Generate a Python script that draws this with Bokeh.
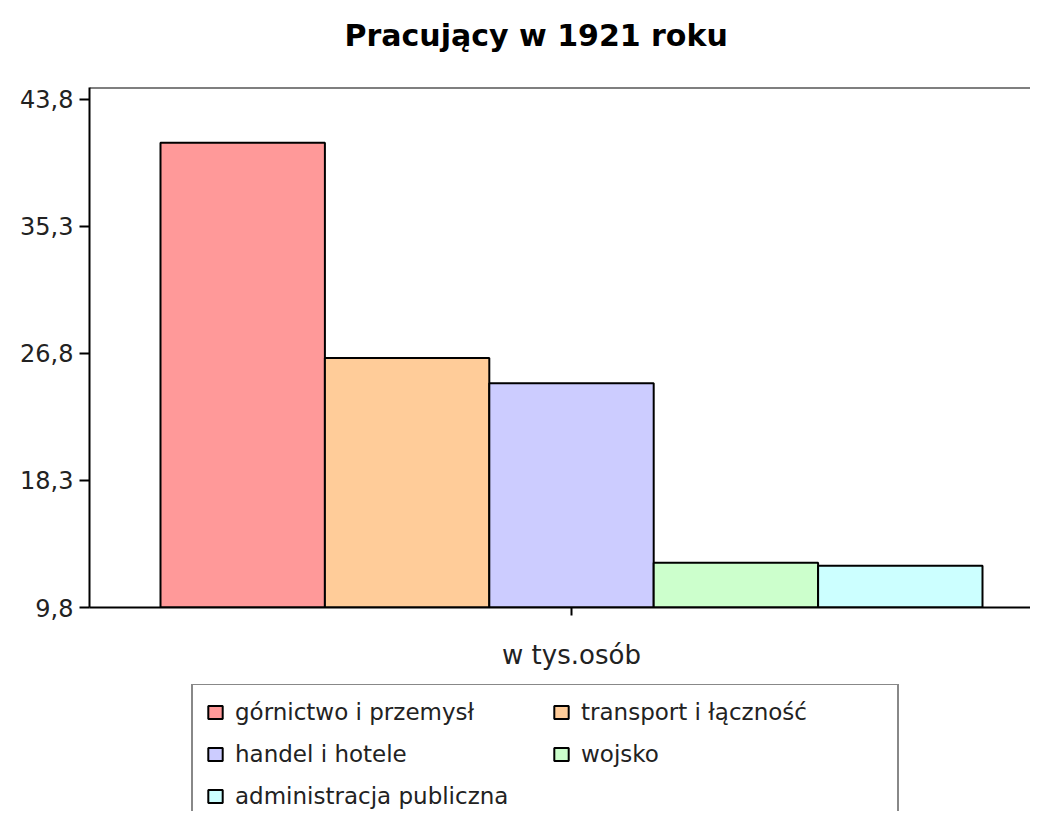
from bokeh.plotting import figure
from bokeh.layouts import column
from bokeh.models import (Range1d, FixedTicker, CustomJSTickFormatter, Legend, LegendItem,
                          Span, ColumnDataSource, Title)
from bokeh.embed import file_html
from bokeh.resources import INLINE

# ---- data ----
title_text = "Pracujący w 1921 roku"
category = "w tys.osób"
series = ["górnictwo i przemysł", "transport i łączność", "handel i hotele",
          "wojsko", "administracja publiczna"]
values = [40.9, 26.5, 24.8, 12.8, 12.6]
colors = ["#FF9999", "#FFCC99", "#CCCCFF", "#CCFFCC", "#CCFFFF"]
y_ticks = [9.8, 18.3, 26.8, 35.3, 43.8]

# ---- layout constants ----
y_start, y_end = 9.8, 44.6
bar_w = 164.4  # x range is in px-like units

p = figure(width=1030, height=684, output_backend="svg", toolbar_location=None, title=None,
           x_range=Range1d(-482, 459), y_range=Range1d(y_start, y_end),
           min_border_left=89, min_border_right=0, min_border_top=87,
           min_border_bottom=77)
p.outline_line_color = None
p.background_fill_color = "white"
p.border_fill_color = "white"
p.xgrid.visible = False
p.ygrid.visible = False

# title (spacer first so the real title sits higher)
p.add_layout(Title(text=" ", text_font_size="1px", standoff=32), "above")
p.add_layout(Title(text=title_text, text_font="DejaVu Sans", text_font_style="bold",
                   text_font_size="30px", text_color="black", align="left",
                   offset=255, standoff=0), "above")

# bars
n = len(series)
sources = []
for i, (name, v, c) in enumerate(zip(series, values, colors)):
    src = ColumnDataSource(dict(x=[(i - (n - 1) / 2) * bar_w], top=[v], bottom=[y_start]))
    sources.append(src)
    p.vbar(x="x", top="top", bottom="bottom", width=bar_w, source=src,
           fill_color=c, line_color="black", line_width=2)

# top frame line
p.add_layout(Span(location=y_end, dimension="width", line_color="black", line_width=2))

# y axis
ya = p.yaxis[0]
ya.ticker = FixedTicker(ticks=y_ticks)
ya.formatter = CustomJSTickFormatter(code="return tick.toFixed(1).replace('.', ',');")
ya.axis_line_color = "black"
ya.axis_line_width = 2
ya.major_tick_line_color = "black"
ya.major_tick_line_width = 2
ya.major_tick_out = 10
ya.major_tick_in = 0
ya.minor_tick_line_color = None
ya.major_label_standoff = 6
ya.major_label_text_font = "DejaVu Sans"
ya.major_label_text_font_size = "24px"
ya.major_label_text_color = "#222222"

# x axis
xa = p.xaxis[0]
xa.ticker = FixedTicker(ticks=[0])
xa.major_label_overrides = {0: category}
xa.axis_line_color = "black"
xa.axis_line_width = 2
xa.major_tick_line_color = "black"
xa.major_tick_line_width = 2
xa.major_tick_out = 8
xa.major_tick_in = 0
xa.minor_tick_line_color = None
xa.major_label_standoff = 24
xa.major_label_text_font = "DejaVu Sans"
xa.major_label_text_font_size = "26px"
xa.major_label_text_color = "#222222"

# legend panel (separate figure below the chart); hidden renderers only feed the legend
p2 = figure(width=1030, height=127, output_backend="svg", toolbar_location=None,
            x_range=Range1d(-482, 459), y_range=Range1d(y_start, y_end),
            x_axis_type=None, y_axis_type=None, min_border=0)
p2.outline_line_color = None
p2.xgrid.visible = False
p2.ygrid.visible = False
items = []
for name, c, src in zip(series, colors, sources):
    r = p2.vbar(x="x", top="top", bottom="bottom", width=bar_w, source=src,
                fill_color=c, line_color="black", line_width=2)
    r.visible = False
    items.append(LegendItem(label=name, renderers=[r]))

legend = Legend(items=items, location=(102, -14), orientation="horizontal", ncols=2,
                padding=13, spacing=14, label_standoff=11,
                glyph_width=18, glyph_height=16, label_height=28, label_width=303,
                label_text_font="DejaVu Sans", label_text_font_size="23px",
                label_text_color="#222222",
                border_line_color="#111111", border_line_width=2,
                background_fill_color="white", background_fill_alpha=1.0, margin=0,
                click_policy="none", inactive_fill_alpha=0.0)
p2.add_layout(legend, "center")

open("out.html", "w").write(file_html(column(p, p2, spacing=0), INLINE))
